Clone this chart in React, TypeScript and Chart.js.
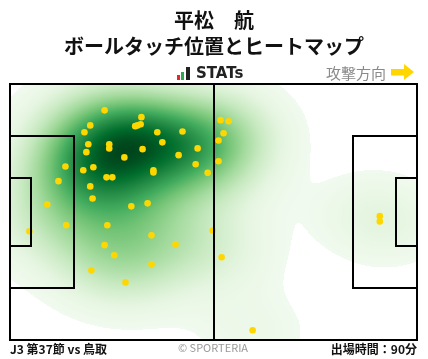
import React, { useEffect, useRef } from "react";
import { Chart, registerables } from "chart.js";

Chart.register(...registerables);

// ---- text ----
const TITLE = "平松　航";
const SUBTITLE = "ボールタッチ位置とヒートマップ";
const BRAND = "STATs";
const DIRECTION = "攻撃方向";
const MATCH = "J3 第37節 vs 鳥取";
const CREDIT = "© SPORTERIA";
const MINUTES = "出場時間：90分";

// ---- pitch (metres) ----
const FIELD_LENGTH = 105;
const FIELD_WIDTH = 68;
const PENALTY_DEPTH = 16.5;
const PENALTY_WIDTH = 40.3;
const GOAL_AREA_DEPTH = 5.5;
const GOAL_AREA_WIDTH = 18.32;

// ---- ball touches (x along pitch from own goal, y from top touchline) ----
const touchX = [24.4, 33.9, 32.3, 32.9, 33.7, 20.7, 19.2, 38.0, 44.5, 20.2, 25.6, 25.6, 39.3, 19.7, 34.2, 48.4, 29.5, 43.5, 47.9, 37.0, 37.0, 14.3, 18.9, 21.5, 51.0, 12.5, 24.9, 26.4, 20.7, 21.3, 9.6, 31.3, 35.5, 14.5, 5.0, 25.1, 24.4, 26.9, 36.5, 42.7, 52.3, 21.0, 36.5, 29.8, 54.3, 56.4, 55.1, 53.8, 53.8, 54.6, 62.6, 95.4, 95.4];
const touchY = [7.0, 8.8, 11.2, 11.0, 10.7, 11.0, 12.8, 12.8, 12.6, 16.0, 16.0, 17.1, 15.5, 18.1, 17.3, 17.1, 19.5, 18.9, 21.3, 22.9, 23.5, 21.9, 22.9, 22.1, 23.6, 25.8, 24.8, 24.8, 27.2, 30.4, 32.0, 32.5, 31.7, 37.5, 39.1, 37.5, 42.8, 45.5, 40.2, 42.6, 38.9, 49.5, 47.9, 52.7, 9.6, 9.9, 13.1, 15.0, 20.5, 46.0, 65.4, 35.1, 36.5];

const BW_ADJUST = 1.12;
const THRESH = 0.03;
const GREENS = ["#f7fcf5", "#e5f5e0", "#c7e9c0", "#a1d99b", "#74c476", "#41ab5d", "#238b45", "#006d2c", "#00441b"];

function hexToRgb(h: string) {
  return [parseInt(h.slice(1, 3), 16), parseInt(h.slice(3, 5), 16), parseInt(h.slice(5, 7), 16)];
}
const GREENS_RGB = GREENS.map(hexToRgb);
function greens(t: number) {
  const tt = Math.max(0, Math.min(1, t)) * (GREENS_RGB.length - 1);
  const i = Math.min(GREENS_RGB.length - 2, Math.floor(tt));
  const f = tt - i;
  const a = GREENS_RGB[i], b = GREENS_RGB[i + 1];
  return [a[0] + (b[0] - a[0]) * f, a[1] + (b[1] - a[1]) * f, a[2] + (b[2] - a[2]) * f];
}

function makeKde(xs: number[], ys: number[]) {
  const n = xs.length;
  let mx = 0, my = 0;
  for (let i = 0; i < n; i++) { mx += xs[i]; my += ys[i]; }
  mx /= n; my /= n;
  let sxx = 0, syy = 0, sxy = 0;
  for (let i = 0; i < n; i++) {
    const dx = xs[i] - mx, dy = ys[i] - my;
    sxx += dx * dx; syy += dy * dy; sxy += dx * dy;
  }
  sxx /= n - 1; syy /= n - 1; sxy /= n - 1;
  const f2 = Math.pow(n, -1 / 3) * BW_ADJUST * BW_ADJUST;
  const a = sxx * f2, b = sxy * f2, c = syy * f2;
  const det = a * c - b * b;
  const ia = c / det, ib = -b / det, ic = a / det;
  const norm = 1 / (n * 2 * Math.PI * Math.sqrt(det));
  return (u: number, v: number) => {
    let s = 0;
    for (let i = 0; i < n; i++) {
      const dx = u - xs[i], dy = v - ys[i];
      s += Math.exp(-0.5 * (dx * dx * ia + 2 * dx * dy * ib + dy * dy * ic));
    }
    return s * norm;
  };
}

const heatPlugin = {
  id: "heat",
  beforeDatasetsDraw(chart: any) {
    const { ctx, chartArea: area, scales } = chart;
    const xs = scales.x, ys = scales.y;
    const kde = makeKde(touchX, touchY);
    // iso-proportion threshold (lowest share of mass left empty)
    const vals: number[] = [];
    for (let u = -50; u <= 155; u += 1) for (let v = -50; v <= 118; v += 1) vals.push(kde(u, v));
    vals.sort((p, q) => q - p);
    let total = 0;
    for (const d of vals) total += d;
    let cum = 0, thr = 0;
    for (const d of vals) { cum += d; if (cum >= (1 - THRESH) * total) { thr = d; break; } }
    const left = Math.round(area.left), top = Math.round(area.top);
    const w = Math.round(area.right) - left, h = Math.round(area.bottom) - top;
    const dens = new Float32Array(w * h);
    let dmax = 0;
    for (let j = 0; j < h; j++) {
      const v = ys.getValueForPixel(top + j + 0.5);
      for (let i = 0; i < w; i++) {
        const u = xs.getValueForPixel(left + i + 0.5);
        const d = kde(u, v);
        dens[j * w + i] = d;
        if (d > dmax) dmax = d;
      }
    }
    const img = ctx.createImageData(w, h);
    for (let k = 0; k < w * h; k++) {
      const d = dens[k];
      if (d < thr) { img.data[k * 4 + 3] = 0; continue; }
      const col = greens(0.04 + 0.96 * (d - thr) / (dmax - thr));
      img.data[k * 4] = col[0];
      img.data[k * 4 + 1] = col[1];
      img.data[k * 4 + 2] = col[2];
      img.data[k * 4 + 3] = 255;
    }
    const off = document.createElement("canvas");
    off.width = w; off.height = h;
    off.getContext("2d")!.putImageData(img, 0, 0);
    ctx.save();
    ctx.drawImage(off, left, top);
    ctx.restore();
  },
};

const pitchPlugin = {
  id: "pitch",
  afterDatasetsDraw(chart: any) {
    const { ctx, scales } = chart;
    const X = (m: number) => Math.round(scales.x.getPixelForValue(m));
    const Y = (m: number) => Math.round(scales.y.getPixelForValue(m));
    const rect = (x0: number, y0: number, x1: number, y1: number) => {
      ctx.strokeRect(X(x0), Y(y0), X(x1) - X(x0), Y(y1) - Y(y0));
    };
    ctx.save();
    ctx.strokeStyle = "#000";
    ctx.lineWidth = 2;
    const pw0 = (FIELD_WIDTH - PENALTY_WIDTH) / 2, pw1 = (FIELD_WIDTH + PENALTY_WIDTH) / 2;
    const gw0 = (FIELD_WIDTH - GOAL_AREA_WIDTH) / 2, gw1 = (FIELD_WIDTH + GOAL_AREA_WIDTH) / 2;
    rect(0, pw0, PENALTY_DEPTH, pw1);
    rect(0, gw0, GOAL_AREA_DEPTH, gw1);
    rect(FIELD_LENGTH - PENALTY_DEPTH, pw0, FIELD_LENGTH, pw1);
    rect(FIELD_LENGTH - GOAL_AREA_DEPTH, gw0, FIELD_LENGTH, gw1);
    ctx.beginPath();
    ctx.moveTo(X(FIELD_LENGTH / 2), Y(0));
    ctx.lineTo(X(FIELD_LENGTH / 2), Y(FIELD_WIDTH));
    ctx.stroke();
    rect(0, 0, FIELD_LENGTH, FIELD_WIDTH);
    ctx.restore();
  },
};

const textPlugin = {
  id: "texts",
  afterDraw(chart: any) {
    const ctx = chart.ctx;
    const JP = '"Noto Sans CJK JP", "Noto Sans", sans-serif';
    ctx.save();
    ctx.textBaseline = "middle";
    ctx.fillStyle = "#111";
    ctx.textAlign = "center";
    ctx.font = `bold 20px ${JP}`;
    ctx.fillText(TITLE, 214, 20);
    ctx.fillText(SUBTITLE, 214, 46);

    // brand mark
    ctx.fillStyle = "#e8262b";
    ctx.fillRect(177, 75, 3, 5);
    ctx.fillStyle = "#2fa84f";
    ctx.fillRect(181, 72, 3, 8);
    ctx.fillStyle = "#222";
    ctx.fillRect(186, 67, 4, 13);
    ctx.textAlign = "left";
    ctx.font = 'bold 15px "DejaVu Sans", sans-serif';
    ctx.fillStyle = "#222";
    ctx.fillText(BRAND, 196, 74);

    ctx.fillStyle = "#8a8a8a";
    ctx.font = `15px ${JP}`;
    ctx.fillText(DIRECTION, 326, 73);

    // direction arrow
    ctx.fillStyle = "#ffd600";
    ctx.beginPath();
    ctx.moveTo(391, 69);
    ctx.lineTo(404, 69);
    ctx.lineTo(404, 64);
    ctx.lineTo(414, 72);
    ctx.lineTo(404, 80);
    ctx.lineTo(404, 75.5);
    ctx.lineTo(391, 75.5);
    ctx.closePath();
    ctx.fill();

    // footer
    ctx.fillStyle = "#111";
    ctx.font = `bold 12px ${JP}`;
    ctx.textAlign = "left";
    ctx.fillText(MATCH, 10, 349);
    ctx.textAlign = "right";
    ctx.fillText(MINUTES, 417, 349);
    ctx.textAlign = "center";
    ctx.fillStyle = "#999";
    ctx.font = `11px ${JP}`;
    ctx.fillText(CREDIT, 213, 348);
    ctx.restore();
  },
};

export default function App() {
  const ref = useRef<HTMLCanvasElement>(null);
  useEffect(() => {
    if (!ref.current) return;
    const chart = new Chart(ref.current, {
      type: "scatter",
      data: {
        datasets: [
          {
            data: touchX.map((x, i) => ({ x, y: touchY[i] })),
            backgroundColor: "#ffd700",
            borderWidth: 0,
            pointRadius: 3.3,
            pointHoverRadius: 3.3,
          },
        ],
      },
      options: {
        responsive: false,
        animation: false,
        events: [],
        layout: { padding: { left: 10, top: 84, right: 11, bottom: 19 } },
        scales: {
          x: { type: "linear", min: 0, max: FIELD_LENGTH, display: false },
          y: { type: "linear", min: 0, max: FIELD_WIDTH, reverse: true, display: false },
        },
        plugins: { legend: { display: false }, tooltip: { enabled: false } },
      },
      plugins: [heatPlugin, pitchPlugin, textPlugin],
    } as any);
    return () => chart.destroy();
  }, []);
  return (
    <div style={{ position: "fixed", left: 0, top: 0, width: 428, height: 359, background: "#fff" }}>
      <canvas ref={ref} width={428} height={359} style={{ display: "block" }} />
    </div>
  );
}
